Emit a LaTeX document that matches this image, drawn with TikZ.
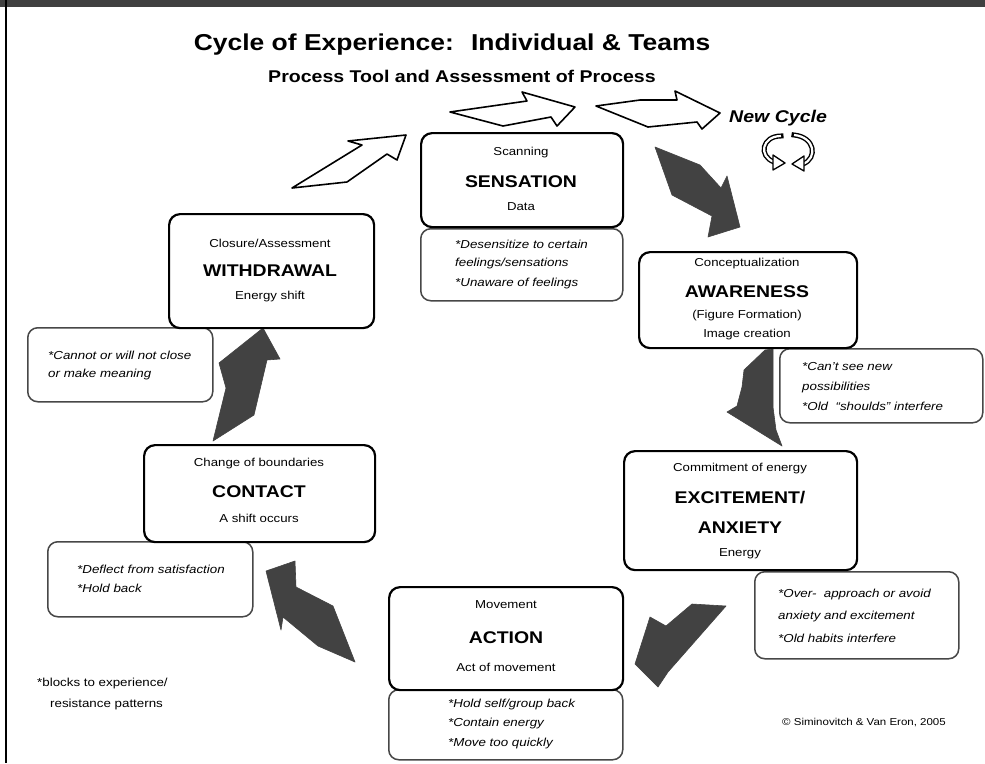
\documentclass[tikz,border=0pt]{standalone}
\usepackage{fontspec}
\setmainfont{Liberation Sans}[FakeStretch=1.15]
\begin{document}
\begin{tikzpicture}[x=1pt,y=-1pt,
  box/.style={draw=black, line width=2.2pt, rounded corners=11pt, fill=white, inner sep=0pt, anchor=north west},
  blk/.style={draw=black!72, line width=1.5pt, rounded corners=10pt, fill=white, inner sep=0pt, anchor=north west},
  small/.style={font=\fontsize{11.5}{13}\selectfont, inner sep=0pt},
  big/.style={font=\fontsize{16.9}{19}\selectfont\bfseries, inner sep=0pt},
  itl/.style={font=\fontsize{11.6}{13}\selectfont\itshape, inner sep=0pt, anchor=west},
  darrow/.style={fill=black!74, draw=black!74, line width=0.6pt, line join=round},
  warrow/.style={fill=white, draw=black, line width=1.6pt, line join=round},
  rline/.style={line width=5pt, line cap=rect},
  rfill/.style={line width=2.2pt, white}
]
\useasboundingbox (0,0) rectangle (985,763);
\fill[white] (0,0) rectangle (985,763);
% frame
\fill[black!75] (0,0) rectangle (985,7);
\draw[line width=2pt] (6,0) -- (6,763);

% titles
\node[anchor=base, inner sep=0pt, font=\fontsize{23}{26}\selectfont\bfseries] (title) at (452,50) {Cycle of Experience:~ Individual \& Teams};
\node[anchor=base, inner sep=0pt, font=\fontsize{17}{20}\selectfont\bfseries] (subtitle) at (462,82) {Process Tool and Assessment of Process};
\node[anchor=base west, inner sep=0pt, font=\fontsize{17}{20}\selectfont\bfseries\itshape] (newcycle) at (729,122) {New Cycle};

% white arrows
\draw[warrow] (292,188) -- (347,182) -- (387,154) -- (397,160) -- (406,135) -- (348,141) -- (362,145) -- cycle;
\draw[warrow] (450,112) -- (527,101) -- (522,92) -- (575,107) -- (557,126) -- (551,117) -- (503,126) -- cycle;
\draw[warrow] (596,106) -- (640,100) -- (677,100) -- (675,91) -- (720,113) -- (702,129) -- (697,122) -- (648,127) -- cycle;

% recycle icon
\draw[rline] (781,136) .. controls (762,136) and (758,156) .. (774,162);
\draw[rfill] (781,136) .. controls (762,136) and (758,156) .. (774,162);
\draw[warrow, line width=1.3pt] (773,155) -- (785,163) -- (773,170) -- cycle;
\draw[rline] (794,135) .. controls (815,137) and (818,158) .. (803,164);
\draw[rfill] (794,135) .. controls (815,137) and (818,158) .. (803,164);
\draw[warrow, line width=1.3pt] (804,156) -- (792,164) -- (804,171) -- cycle;

% dark arrows
\draw[darrow] (655,147) -- (700,165) -- (721,188) -- (727,176) -- (740,227) -- (708,237) -- (712,216) -- (672,195) -- cycle;
\draw[darrow] (765,350) -- (773,349) -- (773,407) -- (776,430) -- (782,446) -- (727,412) -- (737,406) -- (742,387) -- (744,370) -- cycle;
\draw[darrow] (726,606) -- (692,604) -- (666,626) -- (650,617) -- (635,664) -- (658,687) -- (668,672) -- cycle;
\draw[darrow] (355,662) -- (318,646) -- (283,617) -- (281,630) -- (266,571) -- (295,561) -- (296,587) -- (333,606) -- cycle;
\draw[darrow] (213,441) -- (226,388) -- (219,363) -- (263,328) -- (280,359) -- (267,360) -- (254,415) -- cycle;

% blocks (resistance patterns)
\node[blk, minimum width=202pt, minimum height=72pt] (sensB) at (420,228) {};
\node[blk, minimum width=185pt, minimum height=74pt] (withdB) at (27,327) {};
\node[blk, minimum width=205pt, minimum height=75pt] (contB) at (47,541) {};
\node[blk, minimum width=203pt, minimum height=74pt] (awareB) at (779,348) {};
\node[blk, minimum width=204pt, minimum height=87pt] (excitB) at (754,571) {};
\node[blk, minimum width=234pt, minimum height=70pt] (actionB) at (388,689) {};

% stage boxes
\node[box, minimum width=202pt, minimum height=94pt] (sens) at (420,132) {};
\node[box, minimum width=205pt, minimum height=114pt] (withd) at (168,213) {};
\node[box, minimum width=231pt, minimum height=97pt] (cont) at (143,444) {};
\node[box, minimum width=218pt, minimum height=96pt] (aware) at (638,251) {};
\node[box, minimum width=233pt, minimum height=119pt] (excit) at (623,450) {};
\node[box, minimum width=234pt, minimum height=103pt] (action) at (388,586) {};

% sensation
\node[small] (s1) at (521,153) {Scanning};
\node[big] (s2) at (521,182) {SENSATION};
\node[small] (s3) at (521,207) {Data};
\node[itl] (sb1) at (455,244) {*Desensitize to certain};
\node[itl] (sb2) at (455,263) {feelings/sensations};
\node[itl] (sb3) at (455,283) {*Unaware of feelings};

% withdrawal
\node[small] (w1) at (270,243) {Closure/Assessment};
\node[big] (w2) at (270,271) {WITHDRAWAL};
\node[small] (w3) at (270,297) {Energy shift};
\node[itl] (wb1) at (48,355) {*Cannot or will not close};
\node[itl] (wb2) at (48,374) {or make meaning};

% contact
\node[small] (c1) at (259,464) {Change of boundaries};
\node[big] (c2) at (259,492) {CONTACT};
\node[small] (c3) at (259,518) {A shift occurs};
\node[itl] (cb1) at (77,569) {*Deflect from satisfaction};
\node[itl] (cb2) at (77,588) {*Hold back};

% awareness
\node[small] (a1) at (747,264) {Conceptualization};
\node[big] (a2) at (747,292) {AWARENESS};
\node[small] (a3) at (747,316) {(Figure Formation)};
\node[small] (a4) at (747,335) {Image creation};
\node[itl] (ab1) at (802,367) {*Can't see new};
\node[itl] (ab2) at (802,387) {possibilities};
\node[itl] (ab3) at (802,406) {*Old~ “shoulds” interfere};

% excitement
\node[small] (e1) at (740,469) {Commitment of energy};
\node[big] (e2) at (740,498) {EXCITEMENT/};
\node[big] (e3) at (740,528) {ANXIETY};
\node[small] (e4) at (740,554) {Energy};
\node[itl] (eb1) at (778,594) {*Over-~ approach or avoid};
\node[itl] (eb2) at (778,616) {anxiety and excitement};
\node[itl] (eb3) at (778,638) {*Old habits interfere};

% action
\node[small] (m1) at (506,605) {Movement};
\node[big] (m2) at (506,638) {ACTION};
\node[small] (m3) at (506,667) {Act of movement};
\node[itl] (mb1) at (448,704) {*Hold self/group back};
\node[itl] (mb2) at (448,723) {*Contain energy};
\node[itl] (mb3) at (448,743) {*Move too quickly};

% notes
\node[anchor=west, inner sep=0pt, font=\fontsize{11.6}{13}\selectfont] (note1) at (37,683) {*blocks to experience/};
\node[anchor=west, inner sep=0pt, font=\fontsize{11.6}{13}\selectfont] (note2) at (50,704) {resistance patterns};
\node[anchor=west, inner sep=0pt, font=\fontsize{10}{12}\selectfont] (copy) at (782,723) {© Siminovitch \& Van Eron, 2005};
\end{tikzpicture}
\end{document}
